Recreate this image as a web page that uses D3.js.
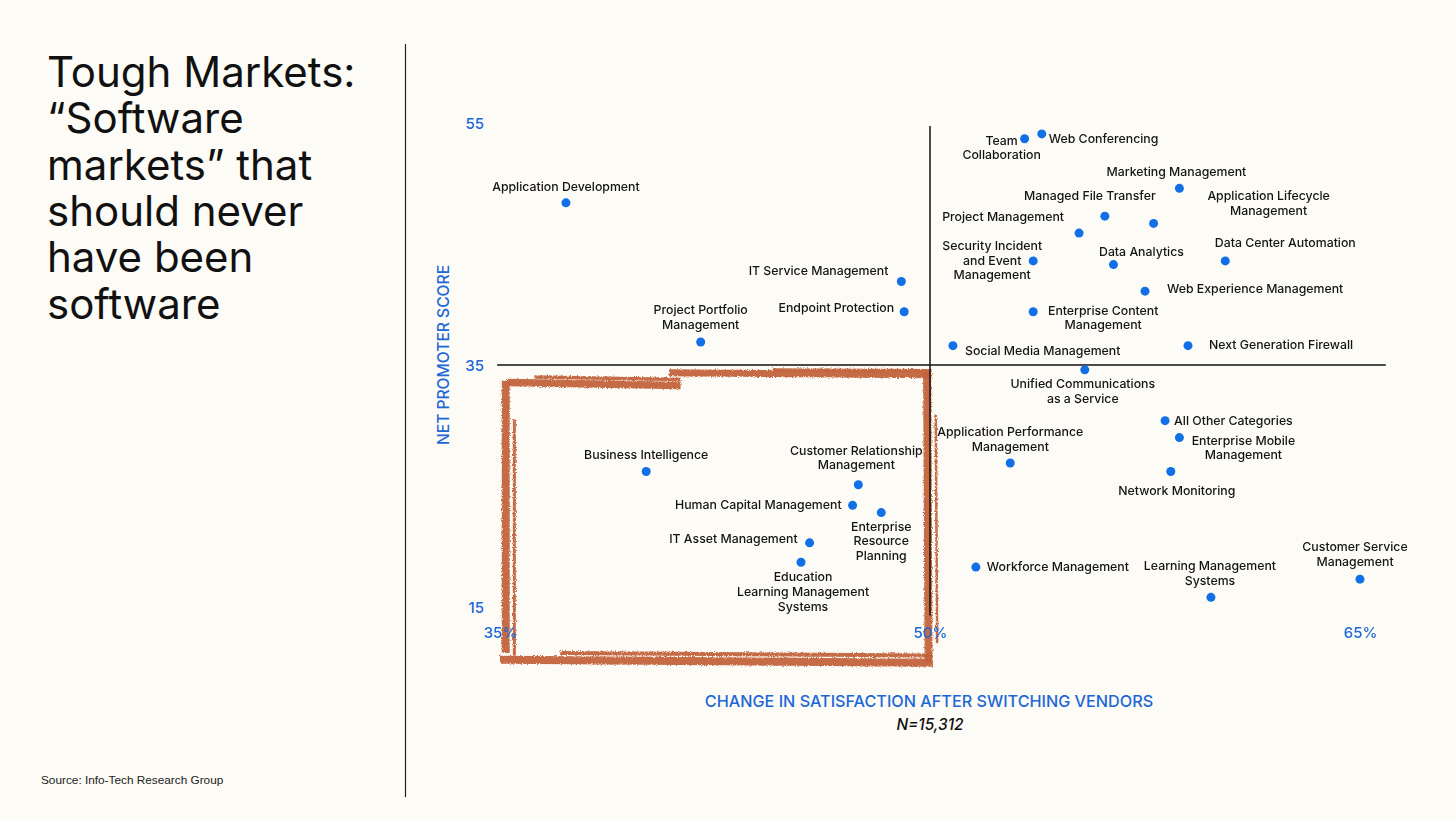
<!DOCTYPE html>
<html>
<head>
<meta charset="utf-8">
<script src="https://cdn.jsdelivr.net/npm/d3@7"></script>
<style>
  html, body { margin: 0; padding: 0; background: #fcfbf6; }
  svg { display: block; }
</style>
</head>
<body>
<script>

// categories and their values (x: change in satisfaction %, y: net promoter score)
const categories = [
    'Application Development', 'IT Service Management', 'Endpoint Protection', 'Project Portfolio Management',
    'Team Collaboration', 'Web Conferencing', 'Marketing Management', 'Managed File Transfer',
    'Application Lifecycle Management', 'Project Management', 'Security Incident and Event Management', 'Data Analytics',
    'Data Center Automation', 'Web Experience Management', 'Enterprise Content Management', 'Social Media Management',
    'Next Generation Firewall', 'Unified Communications as a Service', 'Business Intelligence', 'Customer Relationship Management',
    'Human Capital Management', 'Enterprise Resource Planning', 'IT Asset Management', 'Education Learning Management Systems',
    'All Other Categories', 'Enterprise Mobile Management', 'Application Performance Management', 'Network Monitoring',
    'Workforce Management', 'Learning Management Systems', 'Customer Service Management'
]
const satisfaction = [
    37.3, 49.0, 49.1, 42.0,
    53.3, 53.9, 58.7, 56.1,
    57.8, 55.2, 53.6, 56.4,
    60.3, 57.5, 53.6, 50.8,
    59.0, 55.4, 40.1, 47.5,
    47.3, 48.3, 45.8, 45.5,
    58.2, 58.7, 52.8, 58.4,
    51.6, 59.8, 65.0
]
const nps = [
    48.4, 41.9, 39.4, 36.9,
    53.7, 54.1, 49.6, 47.3,
    46.7, 45.9, 43.6, 43.3,
    43.6, 41.1, 39.4, 36.6,
    36.6, 34.6, 26.2, 25.1,
    23.4, 22.8, 20.3, 18.7,
    30.4, 29.0, 26.9, 26.2,
    18.3, 15.8, 17.3
]
const xTicks = [35, 50, 65]
const yTicks = [15, 35, 55]
const titleLines = ['Tough Markets:', '\u201CSoftware', 'markets\u201D that', 'should never', 'have been', 'software']

// label layout: lines, anchor, offset of first baseline from the dot
const labelLayout = {
    'Application Development': { lines: ['Application Development'], anchor: 'middle', dx: 0, dy: -12 },
    'IT Service Management': { lines: ['IT Service Management'], anchor: 'end', dx: -13, dy: -7 },
    'Endpoint Protection': { lines: ['Endpoint Protection'], anchor: 'end', dx: -10, dy: 0 },
    'Project Portfolio Management': { lines: ['Project Portfolio', 'Management'], anchor: 'middle', dx: 0, dy: -28 },
    'Team Collaboration': { lines: ['Team', 'Collaboration'], anchor: 'middle', dx: -23, dy: 6 },
    'Web Conferencing': { lines: ['Web Conferencing'], anchor: 'start', dx: 7, dy: 9 },
    'Marketing Management': { lines: ['Marketing Management'], anchor: 'middle', dx: -3, dy: -12 },
    'Managed File Transfer': { lines: ['Managed File Transfer'], anchor: 'middle', dx: -15, dy: -16 },
    'Application Lifecycle Management': { lines: ['Application Lifecycle', 'Management'], anchor: 'middle', dx: 115, dy: -23 },
    'Project Management': { lines: ['Project Management'], anchor: 'end', dx: -15, dy: -12 },
    'Security Incident and Event Management': { lines: ['Security Incident', 'and Event', 'Management'], anchor: 'middle', dx: -41, dy: -11 },
    'Data Analytics': { lines: ['Data Analytics'], anchor: 'middle', dx: 28, dy: -9 },
    'Data Center Automation': { lines: ['Data Center Automation'], anchor: 'middle', dx: 60, dy: -14 },
    'Web Experience Management': { lines: ['Web Experience Management'], anchor: 'start', dx: 22, dy: 2 },
    'Enterprise Content Management': { lines: ['Enterprise Content', 'Management'], anchor: 'middle', dx: 70, dy: 3 },
    'Social Media Management': { lines: ['Social Media Management'], anchor: 'start', dx: 12, dy: 9 },
    'Next Generation Firewall': { lines: ['Next Generation Firewall'], anchor: 'start', dx: 21, dy: 3 },
    'Unified Communications as a Service': { lines: ['Unified Communications', 'as a Service'], anchor: 'middle', dx: -2, dy: 18 },
    'Business Intelligence': { lines: ['Business Intelligence'], anchor: 'middle', dx: 0, dy: -12 },
    'Customer Relationship Management': { lines: ['Customer Relationship', 'Management'], anchor: 'middle', dx: -2, dy: -30 },
    'Human Capital Management': { lines: ['Human Capital Management'], anchor: 'end', dx: -11, dy: 4 },
    'Enterprise Resource Planning': { lines: ['Enterprise', 'Resource', 'Planning'], anchor: 'middle', dx: 0, dy: 18 },
    'IT Asset Management': { lines: ['IT Asset Management'], anchor: 'end', dx: -12, dy: 0 },
    'Education Learning Management Systems': { lines: ['Education', 'Learning Management', 'Systems'], anchor: 'middle', dx: 2, dy: 19 },
    'All Other Categories': { lines: ['All Other Categories'], anchor: 'start', dx: 9, dy: 4 },
    'Enterprise Mobile Management': { lines: ['Enterprise Mobile', 'Management'], anchor: 'middle', dx: 64, dy: 7 },
    'Application Performance Management': { lines: ['Application Performance', 'Management'], anchor: 'middle', dx: 0, dy: -27 },
    'Network Monitoring': { lines: ['Network Monitoring'], anchor: 'middle', dx: 6, dy: 24 },
    'Workforce Management': { lines: ['Workforce Management'], anchor: 'start', dx: 11, dy: 4 },
    'Learning Management Systems': { lines: ['Learning Management', 'Systems'], anchor: 'middle', dx: -1, dy: -27 },
    'Customer Service Management': { lines: ['Customer Service', 'Management'], anchor: 'middle', dx: -5, dy: -28 }
}

const W = 1456, H = 819
const BLUE = '#1c68d6'
const DOT = '#1270e6'
const RUST = '#c2633d'

const svg = d3.select('body').append('svg').attr('width', W).attr('height', H)
svg.append('rect').attr('width', W).attr('height', H).attr('fill', '#fcfbf6')

// rough edge for the brush strokes
const defs = svg.append('defs')
const filt = defs.append('filter').attr('id', 'rough').attr('x', '-5%').attr('y', '-5%').attr('width', '110%').attr('height', '110%')
filt.append('feTurbulence').attr('type', 'fractalNoise').attr('baseFrequency', 0.8).attr('numOctaves', 2).attr('seed', 3).attr('result', 'noise')
filt.append('feDisplacementMap').attr('in', 'SourceGraphic').attr('in2', 'noise').attr('scale', 3.5)

const x = d3.scaleLinear().domain([35, 65]).range([500, 1360])
const y = d3.scaleLinear().domain([15, 55]).range([607, 123])

// title block
const title = svg.append('text')
    .attr('x', 47).attr('y', 87)
    .style('font-family', 'Inter, sans-serif')
    .style('font-size', '42px')
    .style('font-weight', 400)
    .attr('fill', '#111')
titleLines.forEach((t, i) => {
    title.append('tspan').attr('x', 47).attr('y', 87 + i * 46.3).text(t)
})

svg.append('text')
    .attr('x', 41).attr('y', 784)
    .style('font-family', '"Liberation Sans", Arial, sans-serif')
    .style('font-size', '11.8px')
    .attr('fill', '#222')
    .text('Source:  Info-Tech Research Group')

svg.append('line')
    .attr('x1', 405.5).attr('x2', 405.5).attr('y1', 44).attr('y2', 797)
    .attr('stroke', '#222').attr('stroke-width', 1.2)

// highlight box (hand drawn) around the low/low quadrant
const brush = svg.append('g').attr('filter', 'url(#rough)')
const strokes = [
    // [x1, y1, x2, y2, width] in data space
    [35.25, 33.55, 41.3, 33.3, 7.5],
    [36.2, 34.0, 41.3, 33.8, 3.5],
    [40.9, 34.35, 50.05, 34.2, 7],
    [44.5, 34.6, 50.05, 34.55, 3],
    [35.2, 33.7, 35.2, 11.2, 8],
    [35.5, 30.5, 35.5, 11.0, 3],
    [35.0, 10.65, 50.1, 10.4, 8],
    [37.1, 11.2, 50.1, 11.0, 4],
    [49.9, 34.4, 49.95, 10.4, 8],
    [50.2, 30.9, 50.25, 12.0, 2.5]
]
brush.selectAll('line')
    .data(strokes)
    .join('line')
    .attr('x1', d => x(d[0])).attr('y1', d => y(d[1]))
    .attr('x2', d => x(d[2])).attr('y2', d => y(d[3]))
    .attr('stroke', RUST)
    .attr('stroke-width', d => d[4])
    .attr('stroke-linecap', 'butt')
    .attr('opacity', 0.95)

// quadrant lines
svg.append('line')
    .attr('x1', x(34.9)).attr('x2', x(65.9)).attr('y1', y(35)).attr('y2', y(35))
    .attr('stroke', '#111').attr('stroke-width', 1.5)
svg.append('line')
    .attr('x1', x(50)).attr('x2', x(50)).attr('y1', y(54.75)).attr('y2', y(14.3))
    .attr('stroke', '#111').attr('stroke-width', 1.5)

// axes, only their tick labels are shown
const xAxis = svg.append('g')
    .attr('transform', 'translate(0, 633)')
    .call(d3.axisBottom(x).tickValues(xTicks).tickSize(0).tickPadding(0).tickFormat(d => d + '%'))
const yAxis = svg.append('g')
    .attr('transform', 'translate(484, 0)')
    .call(d3.axisLeft(y).tickValues(yTicks).tickSize(0).tickPadding(0))
;[xAxis, yAxis].forEach(ax => {
    ax.select('.domain').remove()
    ax.selectAll('text')
        .style('font-family', 'Inter, sans-serif')
        .style('font-size', '15px')
        .style('font-weight', 500)
        .attr('fill', BLUE)
        .attr('dy', '0.35em')
})

svg.append('text')
    .attr('x', 929).attr('y', 707)
    .attr('text-anchor', 'middle')
    .style('font-family', 'Inter, sans-serif')
    .style('font-size', '16.2px')
    .style('font-weight', 500)
    .attr('fill', BLUE)
    .text('CHANGE IN SATISFACTION AFTER SWITCHING VENDORS')

svg.append('text')
    .attr('x', 930).attr('y', 730)
    .attr('text-anchor', 'middle')
    .style('font-family', 'Inter, sans-serif')
    .style('font-size', '15.4px')
    .style('font-weight', 500)
    .style('font-style', 'italic')
    .attr('fill', '#111')
    .text('N=15,312')

svg.append('text')
    .attr('transform', 'translate(449, 355) rotate(-90)')
    .attr('text-anchor', 'middle')
    .style('font-family', 'Inter, sans-serif')
    .style('font-size', '15.6px')
    .style('font-weight', 500)
    .attr('fill', BLUE)
    .text('NET PROMOTER SCORE')

// points and labels
const pts = categories.map((c, i) => ({ name: c, sx: satisfaction[i], np: nps[i] }))

const groups = svg.append('g').selectAll('g')
    .data(pts)
    .join('g')
    .attr('transform', d => `translate(${x(d.sx)}, ${y(d.np)})`)

groups.append('circle')
    .attr('r', 4.5)
    .attr('fill', DOT)

groups.append('text')
    .attr('text-anchor', d => labelLayout[d.name].anchor)
    .style('font-family', 'Inter, sans-serif')
    .style('font-size', '12.3px')
    .style('font-weight', 500)
    .attr('fill', '#141414')
    .each(function (d) {
        const l = labelLayout[d.name]
        l.lines.forEach((t, i) => {
            d3.select(this).append('tspan')
                .attr('x', l.dx)
                .attr('y', l.dy + i * 14.7)
                .text(t)
        })
    })

</script>
</body>
</html>
